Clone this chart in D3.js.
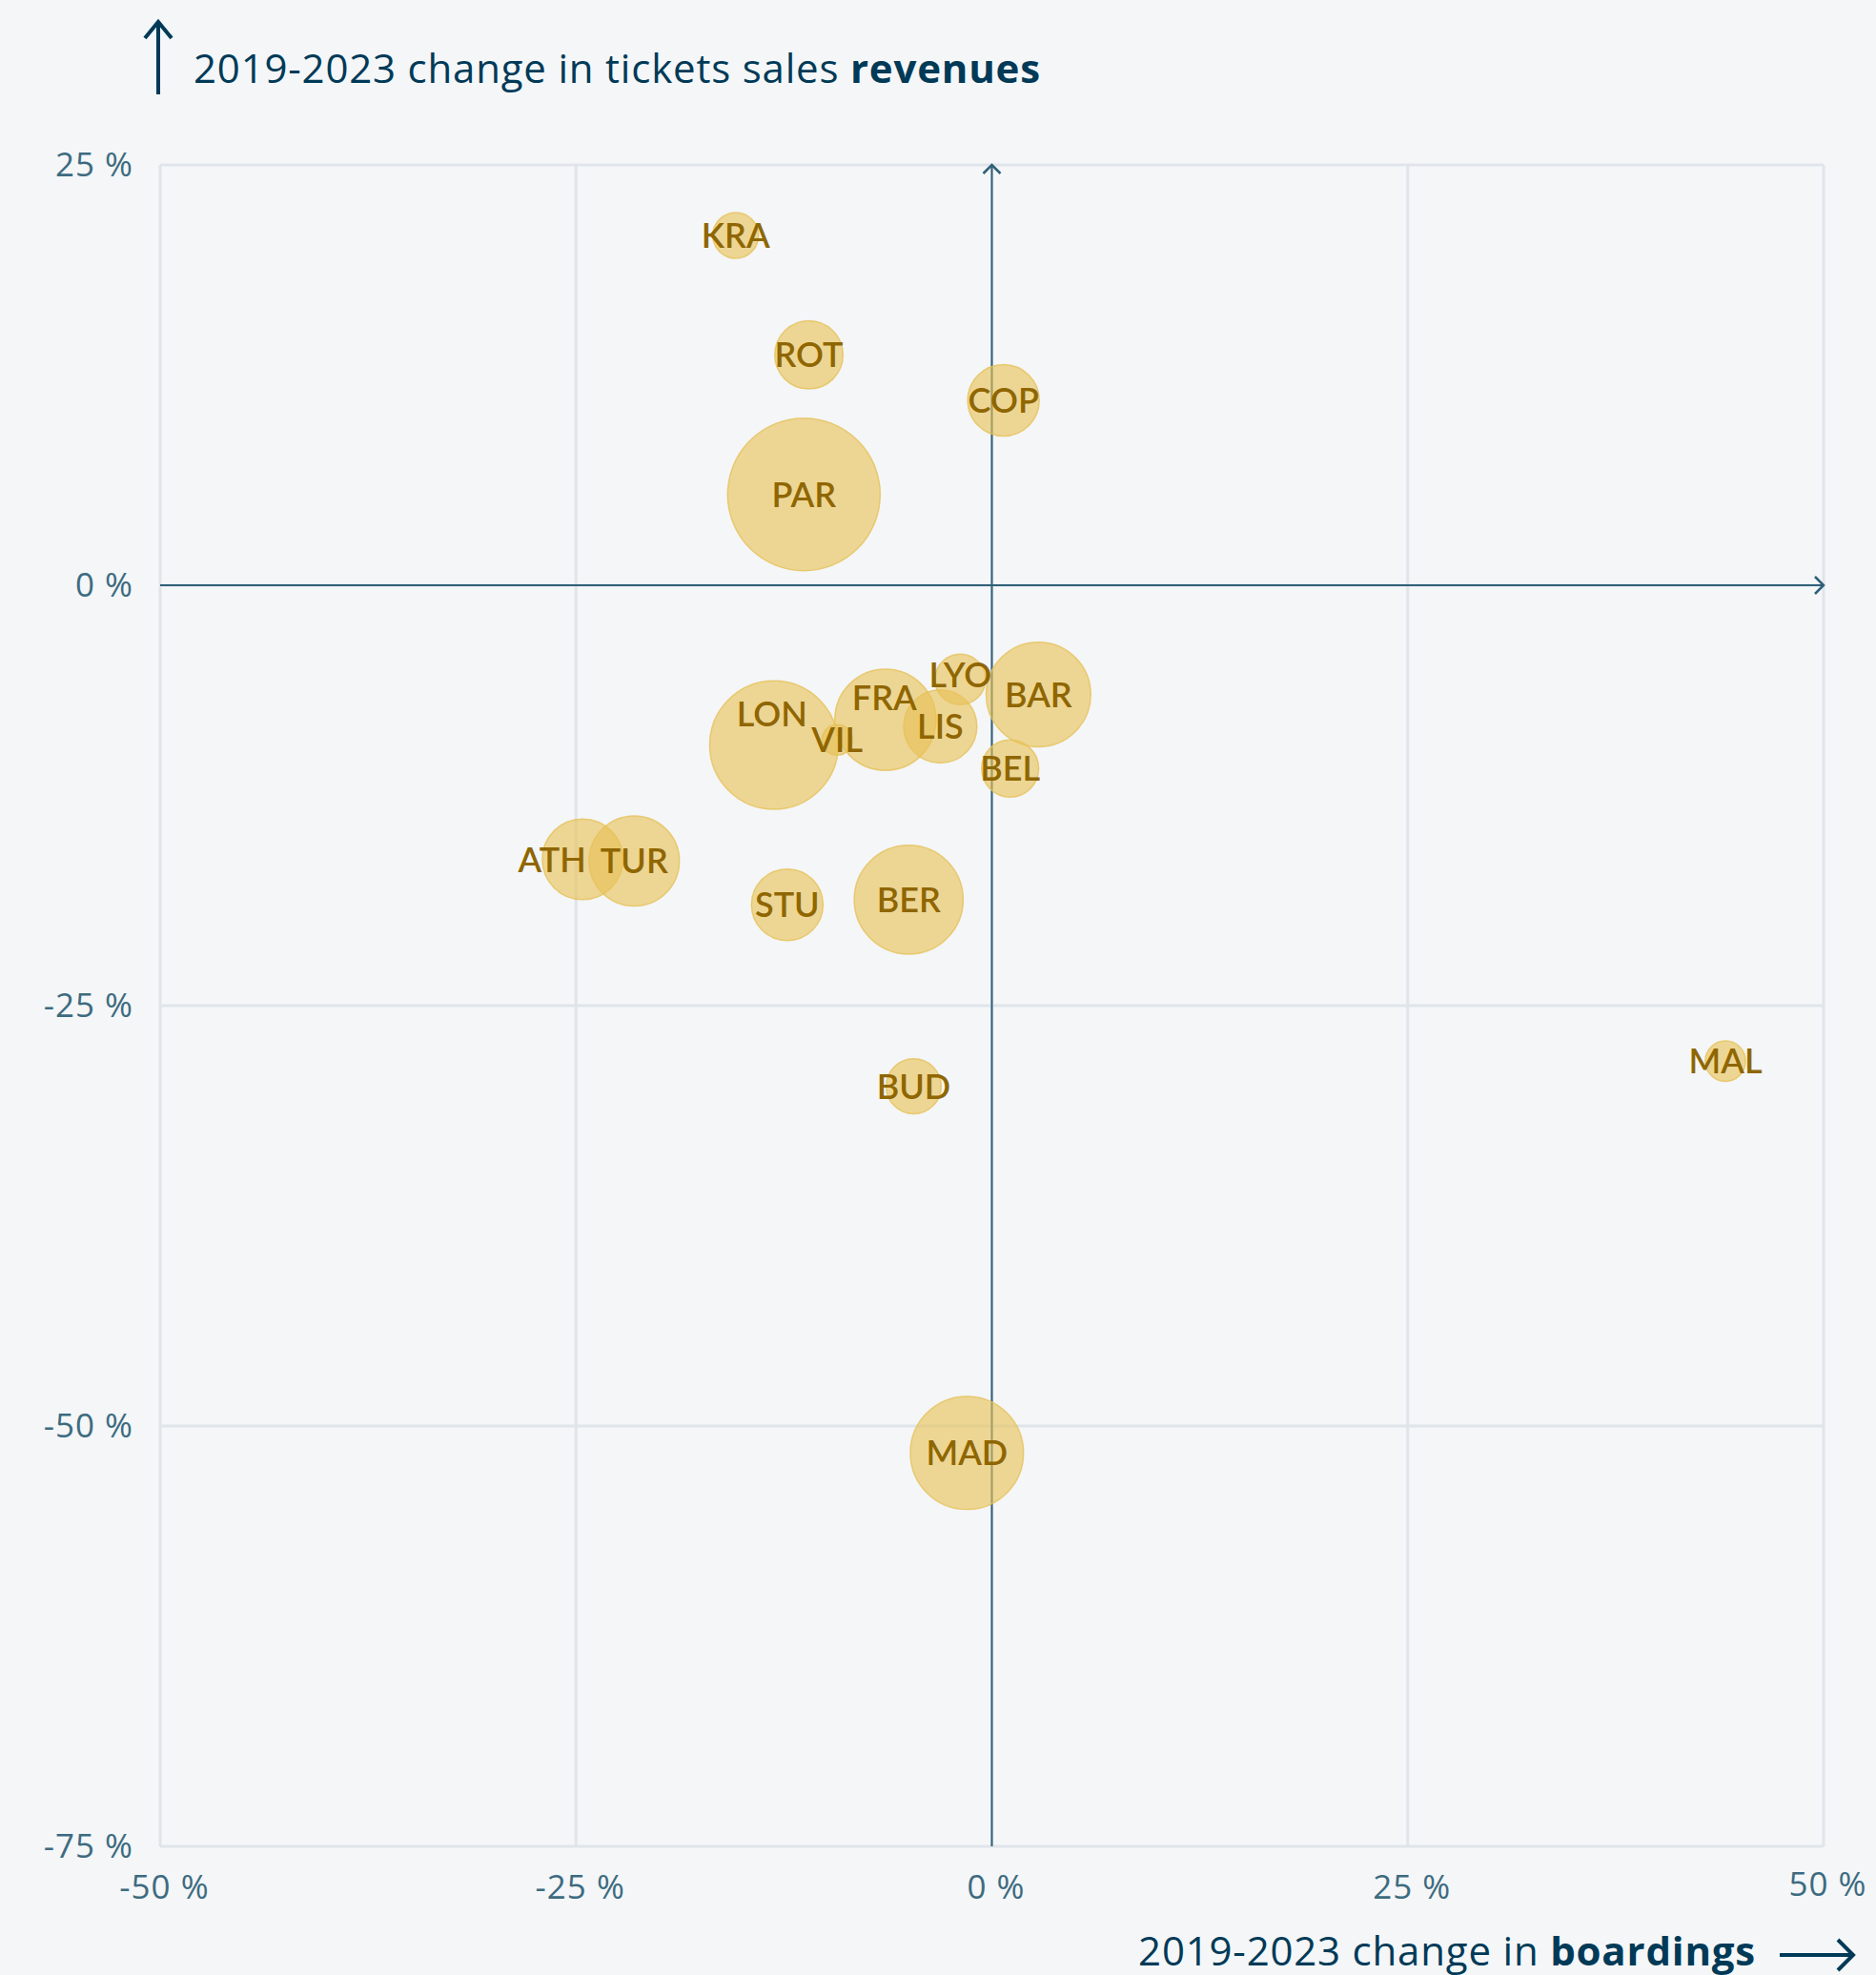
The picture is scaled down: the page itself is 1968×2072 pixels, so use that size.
<!DOCTYPE html>
<html>
<head>
<meta charset="utf-8">
<script src="https://cdn.jsdelivr.net/npm/d3@7"></script>
<style>
  body { margin: 0; background: #f4f6f8; }
  text { font-family: Lato, "Noto Sans", sans-serif; }
</style>
</head>
<body>
<div id="chart"></div>
<script>
// city codes
var cities = ["KRA", "ROT", "COP", "PAR", "LYO", "BAR", "LON", "FRA", "LIS", "VIL", "BEL", "ATH", "TUR", "STU", "BER", "BUD", "MAL", "MAD"];
// 2019-2023 change in boardings (%)
var boardings = [-15.4, -11.0, 0.7, -11.3, -1.9, 2.8, -13.1, -6.4, -3.1, -9.3, 1.1, -24.6, -21.5, -12.3, -5.0, -4.7, 44.1, -1.5];
// 2019-2023 change in ticket sales revenues (%)
var revenues = [20.8, 13.7, 11.0, 5.4, -5.6, -6.5, -9.5, -8.0, -8.4, -9.2, -10.9, -16.3, -16.4, -19.0, -18.7, -29.8, -28.3, -51.6];
// bubble size (relative network size)
var sizes = [9, 20, 22, 100, 11, 47, 71, 44, 23, 4, 14, 28, 35, 22, 51, 13, 7, 55];

var xTicks = [-50, -25, 0, 25, 50];
var yTicks = [25, 0, -25, -50, -75];

var width = 1968, height = 2072;
var margin = {top: 173, right: 55, bottom: 135, left: 168};

var svg = d3.select("#chart").append("svg")
  .attr("width", width)
  .attr("height", height);

var w = width - margin.left - margin.right;
var h = height - margin.top - margin.bottom;

var g = svg.append("g").attr("transform", "translate(" + margin.left + "," + margin.top + ")");

var x = d3.scaleLinear().domain([-50, 50]).range([0, w]);
var y = d3.scaleLinear().domain([-75, 25]).range([h, 0]);
var r = d3.scaleSqrt().domain([0, 100]).range([0, 80]);

var data = cities.map(function(c, i) {
  return {id: c, bx: boardings[i], rv: revenues[i], size: sizes[i]};
});

// grid
g.append("g").selectAll("line").data(xTicks).enter().append("line")
  .attr("x1", function(d) { return x(d); }).attr("x2", function(d) { return x(d); })
  .attr("y1", 0).attr("y2", h)
  .attr("stroke", "#dfe5ea").attr("stroke-width", 3);
g.append("g").selectAll("line").data(yTicks).enter().append("line")
  .attr("y1", function(d) { return y(d); }).attr("y2", function(d) { return y(d); })
  .attr("x1", 0).attr("x2", w)
  .attr("stroke", "#dfe5ea").attr("stroke-width", 3);

// axes
var xAxis = g.append("g")
  .attr("transform", "translate(0," + h + ")")
  .call(d3.axisBottom(x).tickValues(xTicks).tickSize(0).tickPadding(30).tickFormat(function(d) { return d + " %"; }));
var yAxis = g.append("g")
  .call(d3.axisLeft(y).tickValues(yTicks).tickSize(0).tickPadding(28).tickFormat(function(d) { return d + " %"; }));
[xAxis, yAxis].forEach(function(a) {
  a.select(".domain").remove();
  a.selectAll("text")
    .style("font-size", "35px")
    .style("font-family", "'Open Sans', sans-serif")
    .style("letter-spacing", "1px")
    .attr("fill", "#3d6b80");
});
xAxis.selectAll("text").attr("dx", "4px");
xAxis.selectAll("text").filter(function(d) { return d === 50; }).attr("dy", "0.62em");
yAxis.selectAll("text").attr("dy", "0.34em");

// zero lines with arrow heads
var zc = "#2f5f78";
g.append("line").attr("x1", x(0)).attr("x2", x(0)).attr("y1", h).attr("y2", 0)
  .attr("stroke", zc).attr("stroke-width", 2);
g.append("line").attr("x1", 0).attr("x2", w).attr("y1", y(0)).attr("y2", y(0))
  .attr("stroke", zc).attr("stroke-width", 2);
g.append("path")
  .attr("d", "M" + (x(0) - 9) + "," + 9 + "L" + x(0) + ",0L" + (x(0) + 9) + "," + 9)
  .attr("fill", "none").attr("stroke", zc).attr("stroke-width", 2.5);
g.append("path")
  .attr("d", "M" + (w - 9) + "," + (y(0) - 9) + "L" + w + "," + y(0) + "L" + (w - 9) + "," + (y(0) + 9))
  .attr("fill", "none").attr("stroke", zc).attr("stroke-width", 2.5);

// bubbles
g.append("g").selectAll("circle")
  .data(data.slice().sort(function(a, b) { return b.size - a.size; }))
  .enter().append("circle")
  .attr("cx", function(d) { return x(d.bx); })
  .attr("cy", function(d) { return y(d.rv); })
  .attr("r", function(d) { return r(d.size); })
  .attr("fill", "#e8c257")
  .attr("fill-opacity", 0.62)
  .attr("stroke", "#e6c25a")
  .attr("stroke-opacity", 0.8)
  .attr("stroke-width", 1.5);

// label nudges to avoid overlaps
var nudge = {LON: [-2, -33], FRA: [-1, -23], ATH: [-32, 1], LYO: [0, -5]};

g.append("g").selectAll("text")
  .data(data)
  .enter().append("text")
  .attr("x", function(d) { return x(d.bx) + (nudge[d.id] ? nudge[d.id][0] : 0); })
  .attr("y", function(d) { return y(d.rv) + (nudge[d.id] ? nudge[d.id][1] : 0); })
  .attr("dy", "0.36em")
  .attr("text-anchor", "middle")
  .style("font-size", "36px")
  .style("font-weight", 600)
  .attr("fill", "#8f6600")
  .text(function(d) { return d.id; });

// axis titles
var tc = "#003a57";
var t1 = svg.append("text")
  .attr("x", 203).attr("y", 87)
  .style("font-family", "'Open Sans', sans-serif")
  .style("letter-spacing", "0.8px")
  .style("font-size", "42px").attr("fill", tc);
t1.append("tspan").text("2019-2023 change in tickets sales ");
t1.append("tspan").style("font-weight", 700).text("revenues");
svg.append("line").attr("x1", 166).attr("x2", 166).attr("y1", 99).attr("y2", 24)
  .attr("stroke", tc).attr("stroke-width", 4);
svg.append("path").attr("d", "M152,40L166,23L180,40")
  .attr("fill", "none").attr("stroke", tc).attr("stroke-width", 4);

var t2 = svg.append("text")
  .attr("x", 1842).attr("y", 2062)
  .attr("text-anchor", "end")
  .style("font-family", "'Open Sans', sans-serif")
  .style("letter-spacing", "0.8px")
  .style("font-size", "42px").attr("fill", tc);
t2.append("tspan").text("2019-2023 change in ");
t2.append("tspan").style("font-weight", 700).text("boardings");
svg.append("line").attr("x1", 1867).attr("x2", 1943).attr("y1", 2051).attr("y2", 2051)
  .attr("stroke", tc).attr("stroke-width", 4);
svg.append("path").attr("d", "M1928,2035L1944,2051L1928,2067")
  .attr("fill", "none").attr("stroke", tc).attr("stroke-width", 4);
</script>
</body>
</html>
